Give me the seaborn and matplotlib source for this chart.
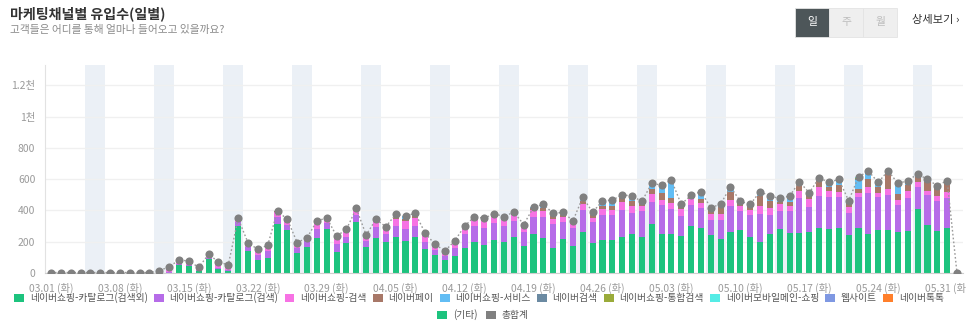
import numpy as np
import pandas as pd
import matplotlib
matplotlib.use('Agg')
import matplotlib.pyplot as plt
import seaborn as sns
from matplotlib.patches import Rectangle, Patch

sns.set_style('white')
plt.rcParams['font.family'] = ['Noto Sans CJK KR', 'DejaVu Sans']

# ---------------- data ----------------
dates = pd.date_range('2022-03-01', '2022-06-01')  # 93 days

series_names = ['네이버쇼핑-카탈로그(검색외)', '네이버쇼핑-카탈로그(검색)', '네이버쇼핑-검색',
                '네이버페이', '네이버쇼핑-서비스', '네이버검색', '네이버쇼핑-통합검색',
                '네이버모바일메인-쇼핑', '웹사이트', '네이버톡톡', '(기타)']
series_colors = ['#1dc37e', '#b66ce8', '#f772e4', '#a87868', '#62bdf4', '#6b8aa2',
                 '#9aab3a', '#55ece6', '#7f98e2', '#ff7f2b', '#1dc37e']
total_name = '총합계'
total_color = '#808080'

catalog_other = [0, 0, 0, 0, 0, 0, 0,
                 0, 0, 0, 0, 0, 0, 50,
                 45, 10, 87, 23, 10, 303, 143,
                 81, 98, 311, 275, 126, 164, 226,
                 281, 136, 190, 324, 164, 226, 200,
                 228, 204, 228, 151, 115, 83, 110,
                 160, 200, 180, 210, 200, 230, 170,
                 250, 226, 162, 215, 175, 262, 190,
                 211, 211, 230, 251, 228, 315, 251,
                 251, 238, 298, 290, 241, 217, 262,
                 273, 230, 200, 247, 281, 253, 253,
                 264, 290, 281, 285, 243, 285, 251,
                 273, 275, 262, 268, 407, 309, 268,
                 285, 0]
catalog_search = [1, 1, 1, 1, 1, 1, 1,
                  1, 1, 1, 1, 5, 5, 8,
                  7, 6, 10, 9, 8, 22, 25,
                  35, 40, 45, 35, 35, 40, 55,
                  40, 50, 40, 45, 40, 70, 50,
                  70, 75, 70, 50, 35, 28, 50,
                  90, 100, 110, 110, 100, 100, 95,
                  110, 134, 149, 109, 115, 141, 134,
                  160, 160, 173, 130, 168, 141, 184,
                  156, 126, 137, 123, 98, 122, 168,
                  123, 141, 177, 124, 115, 143, 224,
                  160, 204, 207, 203, 142, 203, 258,
                  215, 223, 172, 209, 144, 189, 194,
                  196, 0]
shop_search = [2, 2, 2, 2, 2, 2, 2,
               2, 2, 2, 2, 10, 35, 25,
               25, 20, 22, 40, 33, 20, 22,
               30, 35, 33, 28, 28, 18, 42,
               25, 40, 40, 35, 32, 35, 36,
               45, 52, 55, 40, 25, 22, 38,
               35, 40, 40, 40, 40, 40, 30,
               40, 36, 34, 36, 28, 36, 29,
               38, 32, 49, 47, 34, 47, 31,
               38, 43, 36, 36, 36, 36, 36,
               32, 32, 53, 46, 45, 34, 49,
               49, 54, 36, 32, 39, 21, 39,
               23, 39, 33, 47, 32, 26, 32,
               39, 0]
naver_pay = [0, 0, 0, 0, 0, 0, 0,
             0, 0, 0, 0, 0, 0, 0,
             0, 0, 0, 0, 0, 4, 4,
             5, 4, 7, 5, 5, 4, 9,
             7, 10, 9, 9, 7, 12, 10,
             15, 15, 13, 13, 8, 8, 8,
             10, 15, 15, 15, 15, 15, 10,
             15, 20, 18, 12, 8, 20, 17,
             20, 25, 30, 30, 18, 35, 45,
             35, 20, 12, 25, 32, 50, 55,
             18, 25, 60, 45, 15, 25, 35,
             28, 40, 25, 45, 25, 30, 50,
             40, 95, 40, 40, 30, 55, 50,
             55, 0]
shop_service = [0, 0, 0, 0, 0, 0, 0,
                0, 0, 0, 0, 0, 0, 0,
                0, 0, 0, 0, 0, 0, 0,
                0, 0, 0, 0, 0, 0, 0,
                0, 0, 0, 0, 0, 0, 0,
                17, 20, 15, 0, 0, 0, 0,
                5, 5, 5, 5, 5, 5, 5,
                5, 20, 15, 14, 6, 22, 15,
                30, 35, 15, 30, 7, 30, 45,
                105, 10, 12, 40, 8, 12, 25,
                10, 9, 25, 25, 18, 32, 18,
                10, 17, 26, 30, 10, 55, 45,
                23, 12, 60, 22, 15, 15, 10,
                10, 0]
naver_search = [0, 0, 0, 0, 0, 0, 0,
                0, 0, 0, 0, 0, 0, 0,
                0, 0, 0, 0, 0, 0, 0,
                0, 0, 0, 0, 0, 0, 0,
                0, 0, 0, 0, 0, 0, 0,
                0, 0, 0, 0, 0, 0, 0,
                0, 0, 0, 0, 0, 0, 0,
                0, 3, 3, 2, 2, 3, 3,
                3, 3, 3, 4, 3, 5, 6,
                9, 2, 3, 6, 2, 4, 5,
                2, 2, 5, 5, 3, 5, 4,
                2, 4, 4, 4, 3, 7, 9,
                5, 5, 6, 4, 5, 5, 4,
                5, 0]
integrated_search = [0] * 82 + [8, 0, 0, 5, 0, 0, 0, 0, 0, 0, 0]
mobile_main = [0] * 82 + [6, 0, 0, 0, 0, 0, 0, 0, 0, 0, 0]
website = [0] * 93
talktalk = [0] * 93
etc = [0] * 93

all_series = [catalog_other, catalog_search, shop_search, naver_pay, shop_service,
              naver_search, integrated_search, mobile_main, website, talktalk, etc]

tick_every = 7
weekday_kr = ['월', '화', '수', '목', '금', '토', '일']

# ---------------- figure ----------------
fig = plt.figure(figsize=(9.66, 3.31), dpi=100)
W, H = 966, 331
ax = fig.add_axes([45 / W, 58 / H, 918 / W, 208 / H])

n = len(dates)
idx = np.arange(n)
data = np.array(all_series, dtype=float)
cums = np.cumsum(data, axis=0)
total = data.sum(axis=0)

# weekend bands
for i, d in enumerate(dates):
    if d.weekday() == 5:
        ax.axvspan(i - 0.5, i + 1.5, color='#ebf0f6', zorder=0, lw=0)

# stacked bars (draw top cumulative first)
for k in range(len(all_series) - 1, -1, -1):
    if cums[k].max() == 0:
        continue
    sns.barplot(x=idx, y=cums[k], color=series_colors[k], width=0.62,
                saturation=1, errorbar=None, linewidth=0, ax=ax, zorder=2)

# total line + markers
sns.lineplot(x=idx, y=total, color='#9a9a9a', linestyle=(0, (1.2, 1.6)), lw=1.0,
             ax=ax, zorder=3)
sns.scatterplot(x=idx, y=total, color=total_color, s=34, linewidth=0, ax=ax, zorder=4)

ax.set_xlim(-0.61, 92.61)
ax.set_ylim(0, 1330)
ax.set_xlabel('')
ax.set_ylabel('')

yt = [0, 200, 400, 600, 800, 1000, 1200]
ax.set_yticks(yt)
ax.set_yticklabels(['0', '200', '400', '600', '800', '1천', '1.2천'])
ax.yaxis.grid(True, color='#f0f0f0', lw=1, zorder=0)
ax.set_axisbelow(True)
ax.tick_params(axis='y', length=0, pad=7, labelsize=7.5, labelcolor='#9a9a9a')

major = list(range(0, n, tick_every))
ax.set_xticks(major)
ax.set_xticklabels([f"{dates[i].strftime('%m.%d')} ({weekday_kr[dates[i].weekday()]})"
                    for i in major])
ax.set_xticks(idx, minor=True)
ax.tick_params(axis='x', which='both', length=4, color='#cfcfcf', pad=3,
               labelsize=7.4, labelcolor='#9a9a9a', direction='out')

for s in ['top', 'right']:
    ax.spines[s].set_visible(False)
ax.spines['left'].set_color('#e2e2e2')
ax.spines['bottom'].set_color('#cfcfcf')
ax.spines['left'].set_linewidth(0.8)
ax.spines['bottom'].set_linewidth(0.8)
if ax.get_legend():
    ax.get_legend().remove()

# titles
fig.text(10 / W, 1 - 14 / H, '마케팅채널별 유입수(일별)', fontsize=10.1, weight='bold',
         color='#333333', va='center', ha='left')
fig.text(10 / W, 1 - 30 / H, '고객들은 어디를 통해 얼마나 들어오고 있을까요?', fontsize=7.7,
         color='#8a8a8a', va='center', ha='left')

# period buttons
btns = [('일', 795, '#4d5659', 'white'), ('주', 829, '#efefef', '#bdbdbd'),
        ('월', 863, '#efefef', '#bdbdbd')]
for lab, x0, fc, tc in btns:
    fig.patches.append(Rectangle((x0 / W, 1 - 37 / H), 34 / W, 29 / H, transform=fig.transFigure,
                                 facecolor=fc, edgecolor='#e4e4e4', lw=0.6))
    fig.text((x0 + 17) / W, 1 - 22 / H, lab, fontsize=7.8, color=tc, ha='center', va='center')
fig.text(912 / W, 1 - 20 / H, '상세보기 ›', fontsize=8.1, color='#333333', ha='left', va='center')

# legends
h1 = [Patch(facecolor=c, edgecolor='none') for c in series_colors[:10]]
fig.legend(h1, series_names[:10], loc='center', bbox_to_anchor=(479 / W, 1 - 298 / H),
           ncol=10, frameon=False, fontsize=7, handlelength=1.0, handleheight=1.0,
           handletextpad=0.6, columnspacing=0.65, labelcolor='#555555')
h2 = [Patch(facecolor=series_colors[10], edgecolor='none'),
      Patch(facecolor=total_color, edgecolor='none')]
fig.legend(h2, [series_names[10], total_name], loc='center', bbox_to_anchor=(483 / W, 1 - 315 / H),
           ncol=2, frameon=False, fontsize=7, handlelength=1.0, handleheight=1.0,
           handletextpad=0.6, columnspacing=0.9, labelcolor='#555555')

fig.savefig('out.png', dpi=100)
